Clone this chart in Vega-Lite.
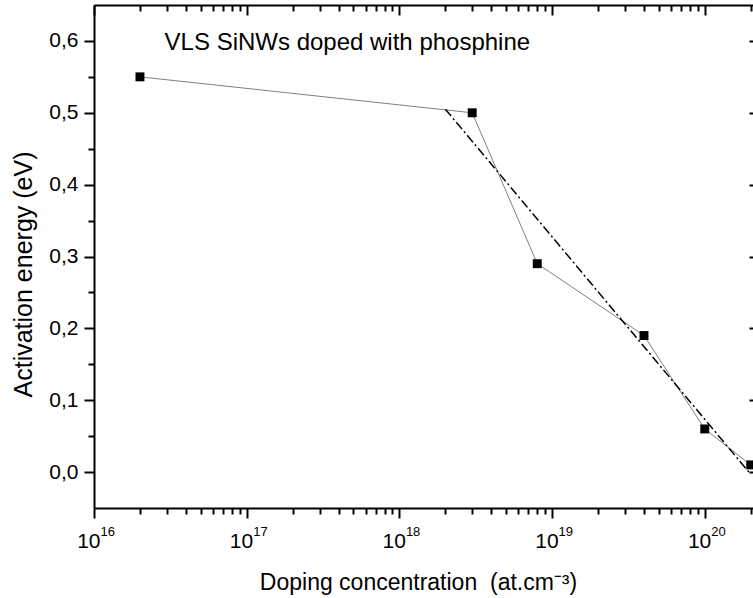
{
  "$schema": "https://vega.github.io/schema/vega-lite/v6.json",
  "width": 659,
  "height": 503,
  "autosize": "none",
  "padding": {"left": 94, "top": 5, "right": 0, "bottom": 90},
  "background": "white",
  "config": {
    "view": {"stroke": null},
    "font": "Liberation Sans",
    "axis": {
      "grid": false,
      "domainColor": "black",
      "domainWidth": 2,
      "tickColor": "black",
      "tickWidth": 2,
      "labelColor": "black",
      "labelFont": "Liberation Sans",
      "labelFontSize": 21,
      "titleColor": "black",
      "titleFont": "Liberation Sans",
      "titleFontWeight": "normal",
      "labelFlush": false,
      "labelBound": false,
      "labelOverlap": false
    }
  },
  "datasets": {
    "measured": [
      {"doping": 2e16, "energy": 0.55},
      {"doping": 3e18, "energy": 0.50},
      {"doping": 8e18, "energy": 0.29},
      {"doping": 4e19, "energy": 0.19},
      {"doping": 1e20, "energy": 0.06},
      {"doping": 2e20, "energy": 0.01}
    ],
    "fit": [
      {"doping": 2e18, "energy": 0.505},
      {"doping": 2e20, "energy": -0.003}
    ],
    "label": [
      {"doping": 2.9e16, "energy": 0.588, "text": "VLS SiNWs doped with phosphine"}
    ]
  },
  "resolve": {"axis": {"x": "independent", "y": "independent"}},
  "layer": [
    {
      "data": {"name": "measured"},
      "mark": {"type": "line", "color": "#808080", "strokeWidth": 1},
      "encoding": {
        "x": {
          "field": "doping", "type": "quantitative",
          "scale": {"type": "log", "domain": [1e16, 2.07e20], "nice": false},
          "axis": {
            "orient": "bottom",
            "values": [1e16, 1e17, 1e18, 1e19, 1e20],
            "tickSize": 10,
            "labelPadding": 12,
            "labelAlign": "right",
            "labelOffset": 6,
            "labelExpr": "'10'",
            "title": "Doping concentration\u00a0 (at.cm⁻³)",
            "titleFontSize": 23,
            "titlePadding": 20,
            "titleX": 324
          }
        },
        "y": {
          "field": "energy", "type": "quantitative",
          "scale": {"domain": [-0.05, 0.65], "nice": false, "zero": false},
          "axis": {
            "orient": "left",
            "values": [0, 0.1, 0.2, 0.3, 0.4, 0.5, 0.6],
            "tickSize": 10,
            "labelPadding": 6,
            "labelExpr": "replace(format(datum.value, '.1f'), '.', ',')",
            "title": "Activation energy (eV)",
            "titleFontSize": 25,
            "titlePadding": 12,
            "titleY": 269
          }
        }
      }
    },
    {
      "data": {"name": "fit"},
      "mark": {"type": "line", "color": "black", "strokeWidth": 1.5, "strokeDash": [9, 3, 2, 3]},
      "encoding": {
        "x": {
          "field": "doping", "type": "quantitative",
          "axis": {
            "orient": "top",
            "values": [1e16, 1e17, 1e18, 1e19, 1e20],
            "tickSize": -10,
            "labels": false,
            "title": null
          }
        },
        "y": {
          "field": "energy", "type": "quantitative",
          "axis": {
            "orient": "right",
            "values": [0, 0.1, 0.2, 0.3, 0.4, 0.5, 0.6],
            "tickSize": -4,
            "domain": false,
            "labels": false,
            "title": null
          }
        }
      }
    },
    {
      "data": {"name": "measured"},
      "mark": {"type": "point", "shape": "square", "filled": true, "color": "black", "size": 80, "opacity": 1},
      "encoding": {
        "x": {
          "field": "doping", "type": "quantitative",
          "axis": {
            "orient": "bottom",
            "values": [2e16, 3e16, 4e16, 5e16, 6e16, 7e16, 8e16, 9e16, 2e17, 3e17, 4e17, 5e17, 6e17, 7e17, 8e17, 9e17, 2e18, 3e18, 4e18, 5e18, 6e18, 7e18, 8e18, 9e18, 2e19, 3e19, 4e19, 5e19, 6e19, 7e19, 8e19, 9e19, 2e20],
            "tickSize": 6,
            "domain": false,
            "labels": false,
            "title": null
          }
        },
        "y": {
          "field": "energy", "type": "quantitative",
          "axis": {
            "orient": "left",
            "values": [0.05, 0.15, 0.25, 0.35, 0.45, 0.55],
            "tickSize": 6,
            "domain": false,
            "labels": false,
            "title": null
          }
        }
      }
    },
    {
      "data": {"name": "label"},
      "mark": {"type": "text", "align": "left", "baseline": "alphabetic", "fontSize": 24, "font": "Liberation Sans", "color": "black"},
      "encoding": {
        "x": {
          "field": "doping", "type": "quantitative",
          "axis": {
            "orient": "bottom",
            "values": [1e16, 1e17, 1e18, 1e19, 1e20],
            "ticks": false,
            "tickSize": 0,
            "domain": false,
            "labelFontSize": 13,
            "labelPadding": 17,
            "labelAlign": "left",
            "labelOffset": 6,
            "labelExpr": "format(round(log(datum.value)/LN10), 'd')",
            "title": null
          }
        },
        "y": {"field": "energy", "type": "quantitative", "axis": null},
        "text": {"field": "text"}
      }
    },
    {
      "data": {"name": "measured"},
      "mark": {"type": "point", "opacity": 0},
      "encoding": {
        "x": {
          "field": "doping", "type": "quantitative",
          "axis": {
            "orient": "top",
            "values": [2e16, 3e16, 4e16, 5e16, 6e16, 7e16, 8e16, 9e16, 2e17, 3e17, 4e17, 5e17, 6e17, 7e17, 8e17, 9e17, 2e18, 3e18, 4e18, 5e18, 6e18, 7e18, 8e18, 9e18, 2e19, 3e19, 4e19, 5e19, 6e19, 7e19, 8e19, 9e19, 2e20],
            "tickSize": -6,
            "domain": false,
            "labels": false,
            "title": null
          }
        },
        "y": {"field": "energy", "type": "quantitative", "axis": null}
      }
    }
  ]
}
